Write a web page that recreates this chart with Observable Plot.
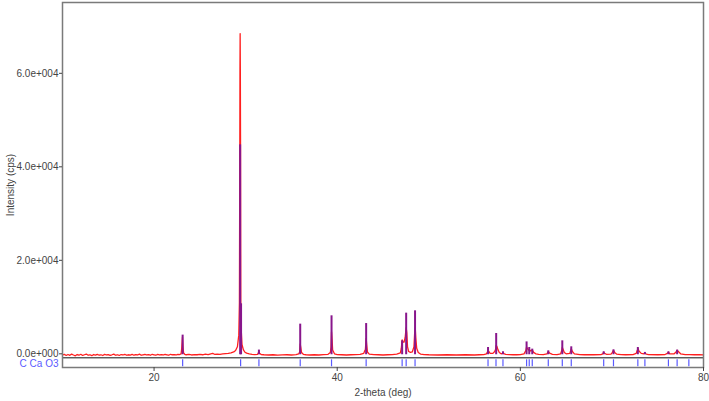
<!DOCTYPE html>
<html>
<head>
<meta charset="utf-8">
<script src="https://cdn.jsdelivr.net/npm/d3@7"></script>
<script src="https://cdn.jsdelivr.net/npm/@observablehq/plot@0.6"></script>
<style>
  html, body { margin: 0; padding: 0; background: #fff; }
  #chart svg { display: block; }
</style>
</head>
<body>
<div id="chart"></div>
<script>
const profile = [
  [10.0,-250],[10.2,-100],[10.4,-350],[10.6,-150],[10.8,-320],[11.0,-60],[11.2,-250],[11.4,-420],[11.6,-150],[11.8,-300],
  [12.0,-100],[12.2,-350],[12.4,-200],[12.6,-50],[12.8,-300],[13.0,-200],[13.2,-400],[13.4,-150],[13.6,-260],[13.8,-100],
  [14.0,-300],[14.2,-200],[14.4,-360],[14.6,-100],[14.8,-250],[15.0,-150],[15.2,-310],[15.4,-200],[15.6,-60],[15.8,-300],
  [16.0,-200],[16.2,-350],[16.4,-150],[16.6,-250],[16.8,-100],[17.0,-300],[17.2,-200],[17.4,-260],[17.6,-100],[17.8,-300],
  [18.0,-150],[18.2,-250],[18.4,-60],[18.6,-300],[18.8,-200],[19.0,-100],[19.2,-250],[19.4,-150],[19.6,-300],[19.8,-100],
  [20.0,-200],[20.2,-300],[20.4,-100],[20.6,-250],[20.8,-150],[21.0,-250],[21.2,-100],[21.4,-200],[21.6,-300],[21.8,-100],
  [22.0,-200],[22.2,-150],[22.4,-250],[22.6,-100],[22.8,-150],[22.95,0],[23.02,1200],[23.1,3600],[23.16,1500],[23.22,200],
  [23.35,-100],[23.5,-200],[23.8,-100],[24.1,-250],[24.4,-150],[24.7,-200],[25.0,-100],[25.3,-200],[25.6,-60],[25.9,-150],
  [26.2,0],[26.4,100],[26.6,-100],[26.9,-50],[27.2,-100],[27.5,0],[27.8,50],[28.1,100],[28.4,200],[28.7,400],
  [28.9,700],[29.1,1500],[29.25,4000],[29.32,11000],[29.36,40000],[29.38,61000],[29.4,68500],[29.42,61000],[29.44,46800],[29.47,11000],
  [29.52,5000],[29.6,2000],[29.75,900],[29.9,400],[30.1,150],[30.4,0],[30.7,-100],[31.0,-150],[31.3,-100],[31.38,150],
  [31.45,500],[31.52,100],[31.7,-150],[32.0,-200],[32.5,-250],[33.0,-200],[33.5,-280],[34.0,-220],[34.5,-200],[35.0,-250],
  [35.5,-150],[35.8,0],[35.9,400],[35.96,2100],[36.02,1400],[36.1,300],[36.3,-100],[36.6,-200],[37.0,-250],[37.5,-200],
  [38.0,-250],[38.5,-150],[39.0,-100],[39.25,300],[39.33,1500],[39.38,4700],[39.44,3000],[39.5,800],[39.7,0],[40.0,-150],
  [40.5,-200],[41.0,-250],[41.5,-200],[42.0,-150],[42.5,-100],[42.9,100],[43.08,1000],[43.16,3300],[43.22,2000],[43.3,400],
  [43.5,-50],[44.0,-150],[44.5,-200],[45.0,-250],[45.5,-200],[46.0,-150],[46.5,-50],[46.9,200],[47.0,1200],[47.09,3000],
  [47.18,2500],[47.3,2500],[47.42,3500],[47.53,5600],[47.6,4500],[47.68,1500],[47.8,500],[48.0,300],[48.2,400],[48.38,1500],
  [48.46,4500],[48.52,5600],[48.58,3500],[48.68,1200],[48.85,300],[49.1,-50],[49.5,-150],[50.0,-200],[51.0,-250],[52.0,-200],
  [53.0,-250],[54.0,-200],[55.0,-250],[55.5,-200],[56.0,-150],[56.3,0],[56.4,400],[56.47,900],[56.55,500],[56.7,100],
  [57.0,100],[57.2,500],[57.3,1000],[57.36,1800],[57.44,1600],[57.55,900],[57.7,300],[57.9,0],[58.05,100],[58.1,350],
  [58.2,50],[58.4,-100],[58.8,-150],[59.2,-200],[59.6,-200],[60.0,-150],[60.4,0],[60.6,700],[60.68,1500],[60.78,1100],
  [60.9,800],[60.97,1000],[61.1,600],[61.22,700],[61.3,850],[61.45,300],[61.7,0],[62.0,-100],[62.5,-150],[62.9,0],
  [63.05,500],[63.2,150],[63.5,-100],[64.0,-150],[64.4,0],[64.5,600],[64.58,1400],[64.66,1000],[64.8,300],[65.0,0],
  [65.4,100],[65.5,700],[65.56,1100],[65.68,500],[65.9,0],[66.5,-150],[67.0,-200],[68.0,-200],[68.8,-150],[69.0,0],
  [69.1,350],[69.2,100],[69.4,-100],[69.9,-50],[70.05,300],[70.17,750],[70.3,300],[70.5,-50],[71.0,-150],[71.5,-200],
  [72.3,-150],[72.65,100],[72.78,800],[72.86,1100],[72.95,600],[73.2,100],[73.5,0],[73.6,150],[73.75,-50],[74.0,-150],
  [75.0,-200],[75.8,-150],[76.05,100],[76.17,350],[76.32,0],[76.8,0],[77.0,400],[77.12,750],[77.25,500],[77.5,0],
  [78.0,-150],[78.5,-150],[79.0,-200],[79.5,-200],[80.0,-220]
];

// Peak sticks (purple): position (deg) and height (cps)
const stickPos    = [23.12, 29.40, 29.50, 31.45, 35.96, 39.38, 43.16, 47.09, 47.53, 48.50, 56.47, 57.36, 58.10, 60.68, 60.97, 61.30, 63.05, 64.58, 65.56, 69.10, 70.17, 72.83, 73.60, 76.17, 77.12];
const stickHeight = [4000, 44700, 10700, 800, 6350, 8130, 6480, 2780, 8700, 9200, 1350, 4350, 430, 2550, 1350, 1000, 640, 2780, 1500, 430, 850, 1350, 300, 430, 800];

// Reference pattern ticks (blue) for C Ca O3
const refName = "C Ca O3";
const refPos = [23.12, 29.45, 31.45, 35.96, 39.38, 43.16, 47.09, 47.53, 48.50, 56.47, 57.34, 58.10, 60.68, 60.97, 61.30, 63.05, 64.58, 65.56, 69.10, 70.17, 72.83, 73.60, 76.17, 77.12, 78.40];

const xTicks = [20, 40, 60, 80];
const yTicks = [0, 20000, 40000, 60000];

const sticks = stickPos.map((x, i) => ({x, h: stickHeight[i]}));
const refTicks = refPos.map(x => ({x}));

const baseY = -200;      // stick base
const sepY = -856;       // separator between profile and reference strip
const stripTop = -1280, stripBottom = -2780, stripMid = -2030;

function sciFormat(v) {
  if (v === 0) return "0.0e+000";
  const e = Math.floor(Math.log10(Math.abs(v)));
  const m = v / Math.pow(10, e);
  return m.toFixed(1) + "e" + (e >= 0 ? "+" : "-") + String(Math.abs(e)).padStart(3, "0");
}

const chart = Plot.plot({
  width: 709,
  height: 401,
  marginLeft: 62,
  marginRight: 6,
  marginTop: 2,
  marginBottom: 34,
  style: {fontFamily: "'Liberation Sans', Arial, sans-serif", fontSize: "10px", color: "#444", background: "#fff"},
  x: {domain: [10, 80]},
  y: {domain: [-2925, 75150]},
  marks: [
    Plot.line(profile, {x: d => d[0], y: d => d[1], stroke: "#ff1f1f", strokeWidth: 1.3}),
    Plot.ruleX(sticks, {x: "x", y1: baseY, y2: "h", stroke: "#88168c", strokeWidth: 2}),
    Plot.ruleY([sepY], {stroke: "#111", strokeWidth: 1}),
    Plot.ruleX(refTicks, {x: "x", y1: stripTop, y2: stripBottom, stroke: "#5a5aff", strokeWidth: 1.2}),
    Plot.text([refName], {x: 10, y: stripMid, text: d => d, dx: -4, textAnchor: "end", fill: "#5a5aff", fontSize: 10}),
    Plot.frame({stroke: "#7a7a7a", strokeWidth: 1.5}),
    Plot.axisY({ticks: yTicks, tickFormat: sciFormat, tickSize: 3, tickPadding: 1, label: "Intensity (cps)", labelAnchor: "center", labelArrow: "none", labelOffset: 56}),
    Plot.axisX({ticks: xTicks, tickSize: 4, tickPadding: 2, label: "2-theta (deg)", labelAnchor: "center", labelArrow: "none", labelOffset: 28})
  ]
});
document.getElementById("chart").appendChild(chart);
</script>
</body>
</html>
